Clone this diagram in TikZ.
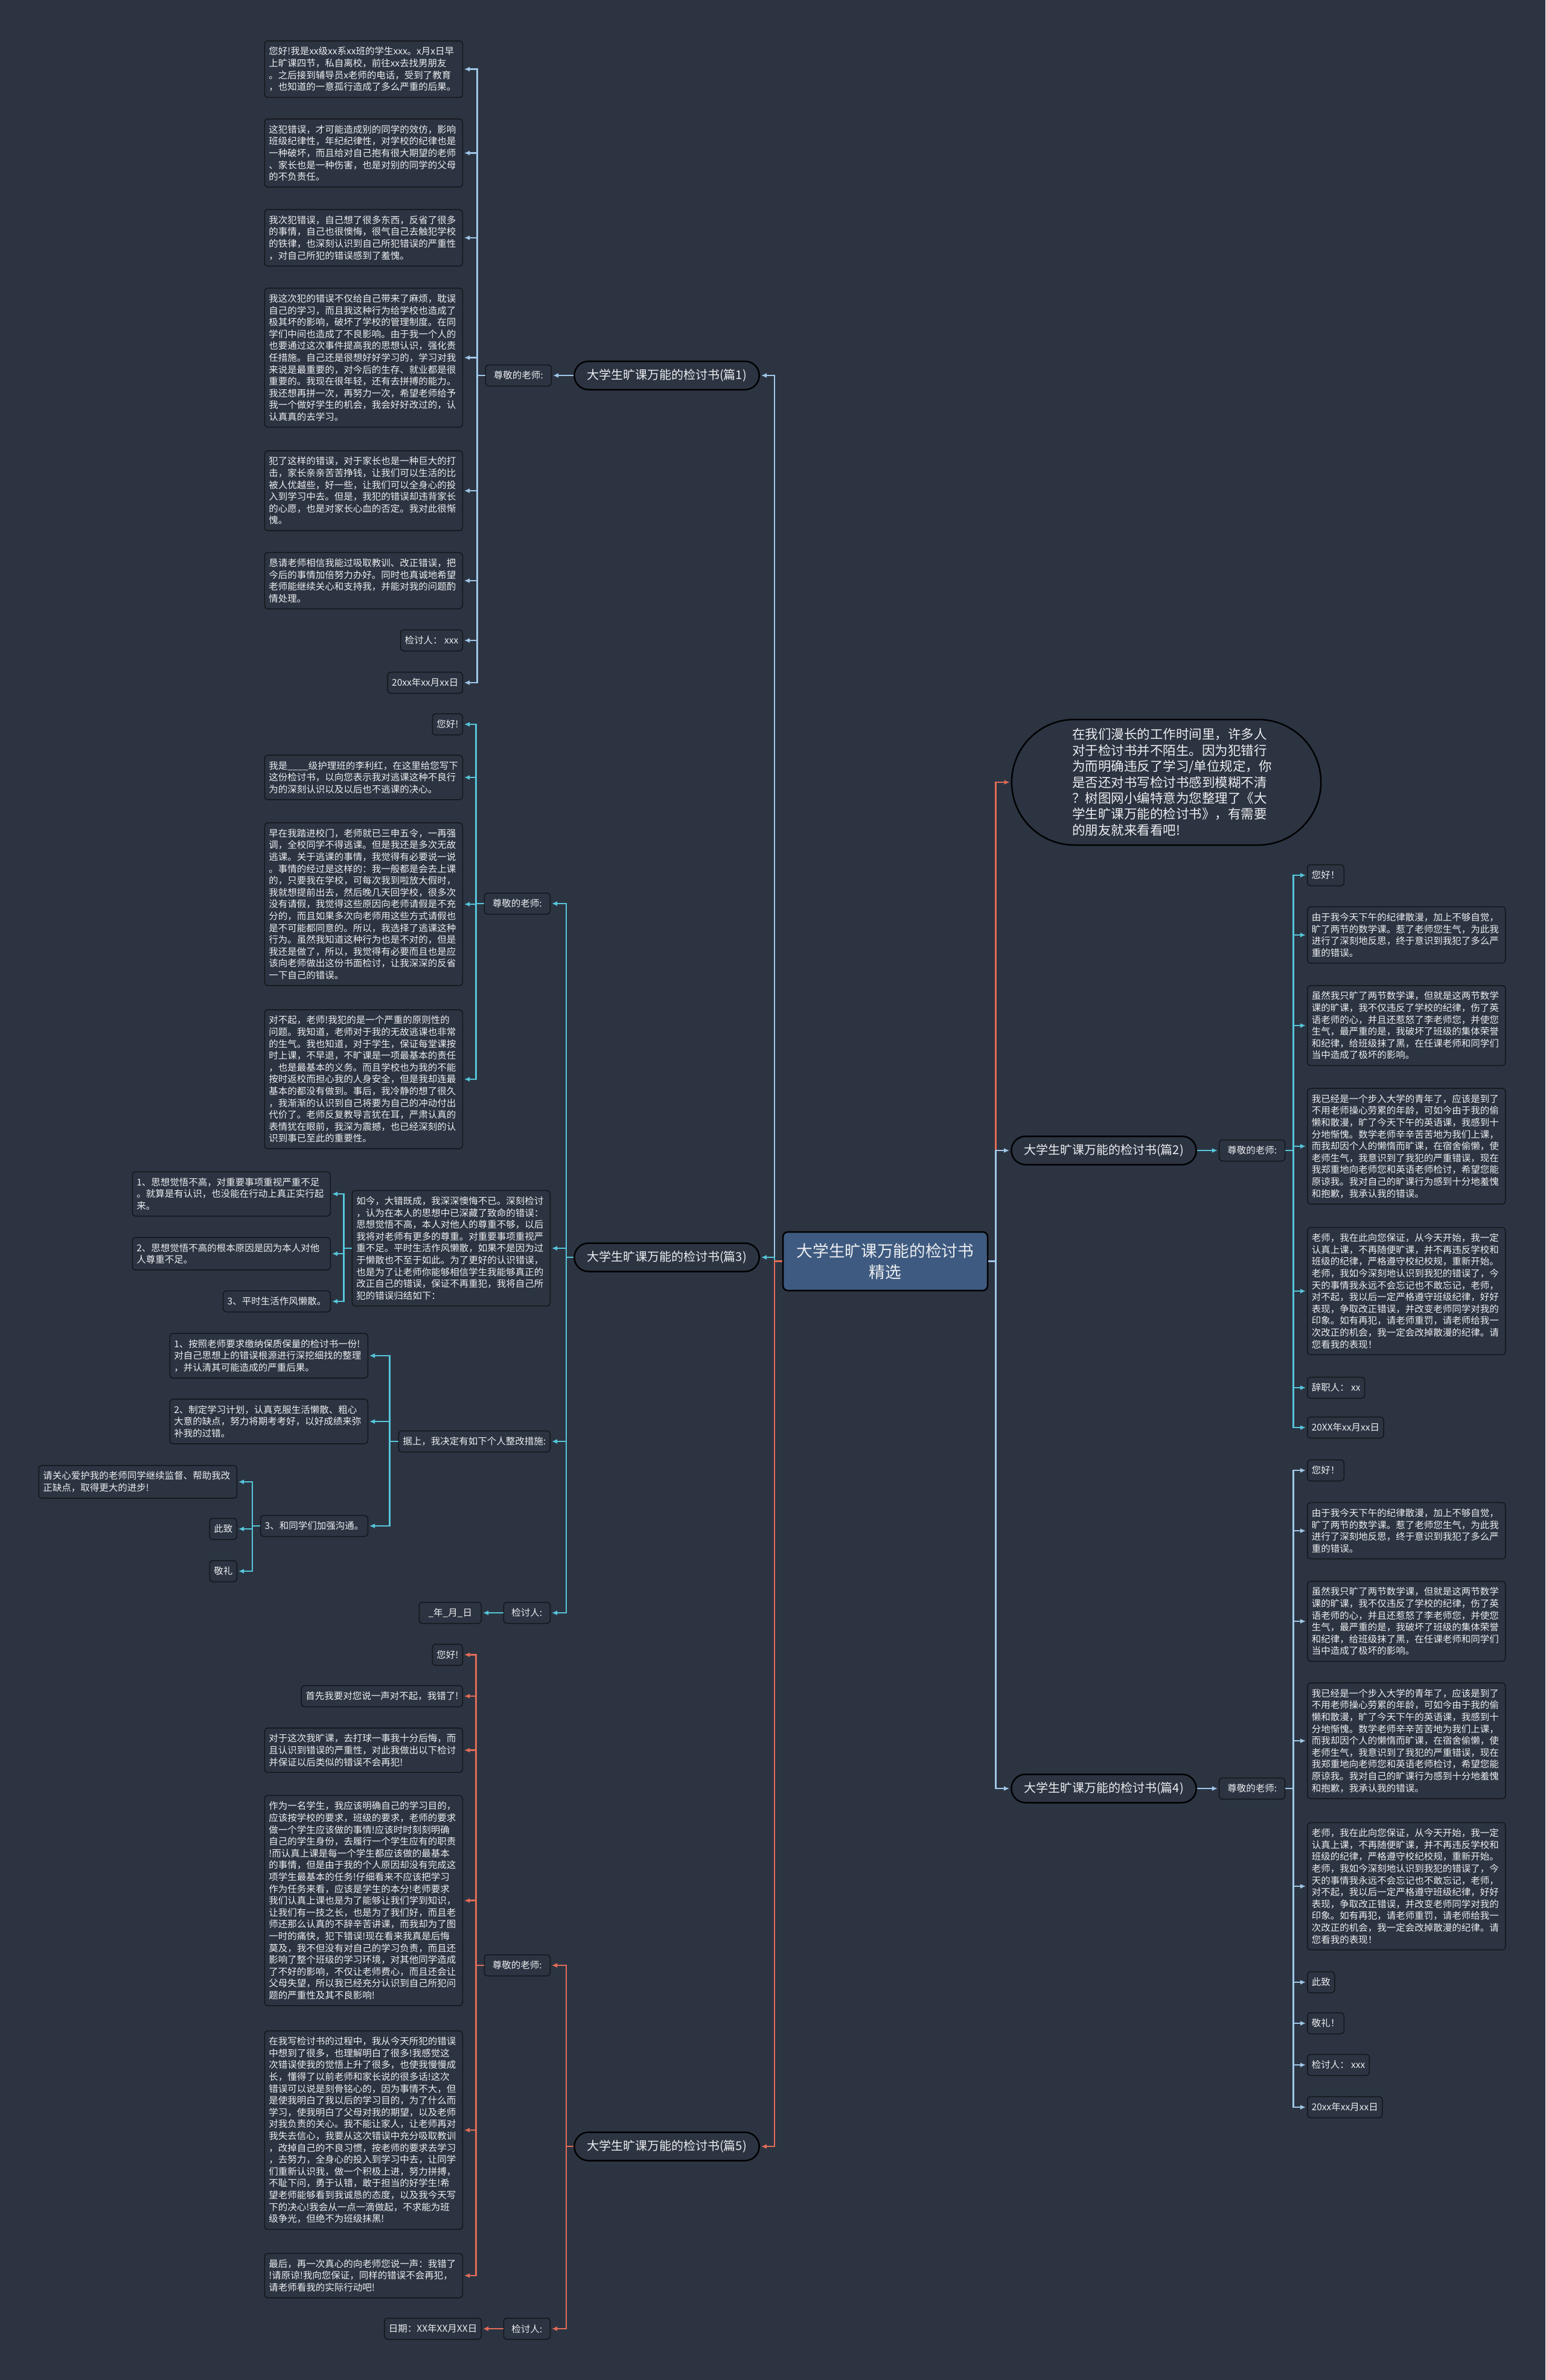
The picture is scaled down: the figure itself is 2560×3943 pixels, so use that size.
\documentclass[tikz,border=0pt]{standalone}
\usepackage{fontspec}
\setmainfont{Noto Sans CJK SC}
\usetikzlibrary{arrows.meta,positioning,shapes.misc}
\definecolor{canvasbg}{RGB}{44,52,66}
\definecolor{boxline}{RGB}{20,22,26}
\definecolor{rootfill}{RGB}{62,90,128}
\definecolor{paleblue}{RGB}{160,200,232}
\definecolor{tealline}{RGB}{86,198,218}
\definecolor{coralline}{RGB}{226,108,86}
\definecolor{inktext}{RGB}{236,238,240}

\newcommand{\bodyfont}{\fontsize{15.5pt}{19.6pt}\selectfont}
\newcommand{\txtyouyu}{由于我今天下午的纪律散漫，加上不够自觉，\\旷了两节的数学课。惹了老师您生气，为此我\\进行了深刻地反思，终于意识到我犯了多么严\\重的错误。}
\newcommand{\txtsuiran}{虽然我只旷了两节数学课，但就是这两节数学\\课的旷课，我不仅违反了学校的纪律，伤了英\\语老师的心，并且还惹怒了李老师您，并使您\\生气，最严重的是，我破坏了班级的集体荣誉\\和纪律，给班级抹了黑，在任课老师和同学们\\当中造成了极坏的影响。}
\newcommand{\txtyijing}{我已经是一个步入大学的青年了，应该是到了\\不用老师操心劳累的年龄，可如今由于我的偷\\懒和散漫，旷了今天下午的英语课，我感到十\\分地惭愧。数学老师辛辛苦苦地为我们上课，\\而我却因个人的懒惰而旷课，在宿舍偷懒，使\\老师生气，我意识到了我犯的严重错误，现在\\我郑重地向老师您和英语老师检讨，希望您能\\原谅我。我对自己的旷课行为感到十分地羞愧\\和抱歉，我承认我的错误。}
\newcommand{\txtbaozheng}{老师，我在此向您保证，从今天开始，我一定\\认真上课，不再随便旷课，并不再违反学校和\\班级的纪律，严格遵守校纪校规，重新开始。\\老师，我如今深刻地认识到我犯的错误了，今\\天的事情我永远不会忘记也不敢忘记，老师，\\对不起，我以后一定严格遵守班级纪律，好好\\表现，争取改正错误，并改变老师同学对我的\\印象。如有再犯，请老师重罚，请老师给我一\\次改正的机会，我一定会改掉散漫的纪律。请\\您看我的表现！}

\tikzset{
    textbox/.style={draw=boxline, line width=1.5pt, rounded corners=5pt, fill=canvasbg, text=inktext, font=\bodyfont, align=left, text width=314pt, inner xsep=7pt, inner ysep=10pt},
    tagbox/.style={draw=boxline, line width=1.5pt, rounded corners=5pt, fill=canvasbg, text=inktext, font=\bodyfont, minimum height=35pt, inner xsep=7pt, inner ysep=4pt},
    branchbox/.style={rounded rectangle, draw=black, line width=2.5pt, fill=canvasbg, text=inktext, font=\fontsize{20pt}{24pt}\selectfont, minimum width=313pt, minimum height=47pt},
    rootbox/.style={draw=black, line width=2.5pt, rounded corners=8pt, fill=rootfill, text=inktext, align=center, font=\fontsize{26.7pt}{35pt}\selectfont, minimum width=339pt, minimum height=97pt},
    introbox/.style={rounded rectangle, draw=black, line width=2.5pt, fill=canvasbg, text=inktext, align=left, text width=312pt, font=\fontsize{21.5pt}{26.4pt}\selectfont, minimum width=519pt, minimum height=208pt},
    palelink/.style={draw=paleblue, line width=2.5pt, -{Latex[length=9pt,width=8pt]}, shorten >=2pt},
    teallink/.style={draw=tealline, line width=2.5pt, -{Latex[length=9pt,width=8pt]}, shorten >=2pt},
    corallink/.style={draw=coralline, line width=2.5pt, -{Latex[length=9pt,width=8pt]}, shorten >=2pt}
}

\begin{document}
\begin{tikzpicture}[x=1pt, y=-1pt]
\fill[canvasbg] (0,0) rectangle (2560,3943);
\useasboundingbox (0,0) rectangle (2560,3943);

% centre and intro
\node[rootbox] (root) at (1466.5,2089.5) {大学生旷课万能的检讨书\\精选};
\node[introbox] (intro) at (1932,1296) {在我们漫长的工作时间里，许多人\\对于检讨书并不陌生。因为犯错行\\为而明确违反了学习/单位规定，你\\是否还对书写检讨书感到模糊不清\\？树图网小编特意为您整理了《大\\学生旷课万能的检讨书》，有需要\\的朋友就来看看吧!};

% branches
\node[branchbox] (p1) at (1104.5,622) {大学生旷课万能的检讨书(篇1)};
\node[branchbox] (p3) at (1104.5,2083) {大学生旷课万能的检讨书(篇3)};
\node[branchbox] (p5) at (1104.5,3556) {大学生旷课万能的检讨书(篇5)};
\node[branchbox] (p2) at (1828.5,1906) {大学生旷课万能的检讨书(篇2)};
\node[branchbox] (p4) at (1828.5,2963) {大学生旷课万能的检讨书(篇4)};

% pian 1
\node[tagbox, minimum width=109pt, left=36pt of p1] (t1) {尊敬的老师:};
\node[textbox, anchor=east] (a1) at (767,114.6) {您好!我是xx级xx系xx班的学生xxx。x月x日早\\上旷课四节，私自离校，前往xx去找男朋友\\。之后接到辅导员x老师的电话，受到了教育\\，也知道的一意孤行造成了多么严重的后果。};
\node[textbox, anchor=east] (a2) at (767,253.5) {这犯错误，才可能造成别的同学的效仿，影响\\班级纪律性，年纪纪律性，对学校的纪律也是\\一种破坏，而且给对自己抱有很大期望的老师\\、家长也是一种伤害，也是对别的同学的父母\\的不负责任。};
\node[textbox, anchor=east] (a3) at (767,394) {我次犯错误，自己想了很多东西，反省了很多\\的事情，自己也很懊悔，很气自己去触犯学校\\的铁律，也深刻认识到自己所犯错误的严重性\\，对自己所犯的错误感到了羞愧。};
\node[textbox, anchor=east] (a4) at (767,592.5) {我这次犯的错误不仅给自己带来了麻烦，耽误\\自己的学习，而且我这种行为给学校也造成了\\极其坏的影响，破坏了学校的管理制度。在同\\学们中间也造成了不良影响。由于我一个人的\\也要通过这次事件提高我的思想认识，强化责\\任措施。自己还是很想好好学习的，学习对我\\来说是最重要的，对今后的生存、就业都是很\\重要的。我现在很年轻，还有去拼搏的能力。\\我还想再拼一次，再努力一次，希望老师给予\\我一个做好学生的机会，我会好好改过的，认\\认真真的去学习。};
\node[textbox, anchor=east] (a5) at (767,813) {犯了这样的错误，对于家长也是一种巨大的打\\击，家长亲亲苦苦挣钱，让我们可以生活的比\\被人优越些，好一些，让我们可以全身心的投\\入到学习中去。但是，我犯的错误却违背家长\\的心愿，也是对家长心血的否定。我对此很惭\\愧。};
\node[textbox, anchor=east] (a6) at (767,962) {恳请老师相信我能过吸取教训、改正错误，把\\今后的事情加倍努力办好。同时也真诚地希望\\老师能继续关心和支持我，并能对我的问题酌\\情处理。};
\node[tagbox, anchor=east] (a7) at (767,1061) {检讨人： xxx};
\node[tagbox, anchor=east] (a8) at (767,1131) {20xx年xx月xx日};

% pian 3
\node[tagbox, minimum width=109pt, anchor=east] (t3) at (912,1497) {尊敬的老师:};
\node[tagbox, anchor=east] (b1) at (767,1200) {您好!};
\node[textbox, anchor=east] (b2) at (767,1288) {我是\_\_\_\_级护理班的李利红，在这里给您写下\\这份检讨书，以向您表示我对逃课这种不良行\\为的深刻认识以及以后也不逃课的决心。};
\node[textbox, anchor=east] (b3) at (767,1498) {早在我踏进校门，老师就已三申五令，一再强\\调，全校同学不得逃课。但是我还是多次无故\\逃课。关于逃课的事情，我觉得有必要说一说\\。事情的经过是这样的：我一般都是会去上课\\的，只要我在学校，可每次我到啦放大假时，\\我就想提前出去，然后晚几天回学校，很多次\\没有请假，我觉得这些原因向老师请假是不充\\分的，而且如果多次向老师用这些方式请假也\\是不可能都同意的。所以，我选择了逃课这种\\行为。虽然我知道这种行为也是不对的，但是\\我还是做了，所以，我觉得有必要而且也是应\\该向老师做出这份书面检讨，让我深深的反省\\一下自己的错误。};
\node[textbox, anchor=east] (b4) at (767,1788) {对不起，老师!我犯的是一个严重的原则性的\\问题。我知道，老师对于我的无故逃课也非常\\的生气。我也知道，对于学生，保证每堂课按\\时上课，不早退，不旷课是一项最基本的责任\\，也是最基本的义务。而且学校也为我的不能\\按时返校而担心我的人身安全，但是我却连最\\基本的都没有做到。事后，我冷静的想了很久\\，我渐渐的认识到自己将要为自己的冲动付出\\代价了。老师反复教导言犹在耳，严肃认真的\\表情犹在眼前，我深为震撼，也已经深刻的认\\识到事已至此的重要性。};
\node[textbox, anchor=east] (jin) at (912,2068) {如今，大错既成，我深深懊悔不已。深刻检讨\\，认为在本人的思想中已深藏了致命的错误：\\思想觉悟不高，本人对他人的尊重不够，以后\\我将对老师有更多的尊重。对重要事项重视严\\重不足。平时生活作风懒散，如果不是因为过\\于懒散也不至于如此。为了更好的认识错误，\\也是为了让老师你能够相信学生我能够真正的\\改正自己的错误，保证不再重犯，我将自己所\\犯的错误归结如下：};
\node[textbox, anchor=east] (e1) at (548,1978) {1、思想觉悟不高，对重要事项重视严重不足\\。就算是有认识，也没能在行动上真正实行起\\来。};
\node[textbox, anchor=east] (e2) at (548,2077) {2、思想觉悟不高的根本原因是因为本人对他\\人尊重不足。};
\node[tagbox, anchor=east] (e3) at (548,2156) {3、平时生活作风懒散。};
\node[tagbox, anchor=east] (ju) at (912,2388) {据上，我决定有如下个人整改措施:};
\node[textbox, anchor=east] (f1) at (610,2246) {1、按照老师要求缴纳保质保量的检讨书一份!\\对自己思想上的错误根源进行深挖细找的整理\\，并认清其可能造成的严重后果。};
\node[textbox, anchor=east] (f2) at (610,2355) {2、制定学习计划，认真克服生活懒散、粗心\\大意的缺点，努力将期考考好，以好成绩来弥\\补我的过错。};
\node[tagbox, anchor=east] (f3) at (610,2528) {3、和同学们加强沟通。};
\node[textbox, anchor=east] (g1) at (393,2455) {请关心爱护我的老师同学继续监督、帮助我改\\正缺点，取得更大的进步!};
\node[tagbox, anchor=east] (g2) at (393,2533) {此致};
\node[tagbox, anchor=east] (g3) at (393,2603) {敬礼};
\node[tagbox, minimum width=77pt, anchor=east] (s3) at (912,2672) {检讨人:};
\node[tagbox, minimum width=103pt, anchor=east] (d3) at (798,2672) {\_年\_月\_日};

% pian 5
\node[tagbox, minimum width=109pt, anchor=east] (t5) at (912,3256) {尊敬的老师:};
\node[tagbox, anchor=east] (h1) at (767,2741.5) {您好!};
\node[tagbox, anchor=east] (h2) at (767,2810) {首先我要对您说一声对不起，我错了!};
\node[textbox, anchor=east] (h3) at (767,2899.6) {对于这次我旷课，去打球一事我十分后悔，而\\且认识到错误的严重性，对此我做出以下检讨\\并保证以后类似的错误不会再犯!};
\node[textbox, anchor=east] (h4) at (767,3148.7) {作为一名学生，我应该明确自己的学习目的，\\应该按学校的要求，班级的要求，老师的要求\\做一个学生应该做的事情!应该时时刻刻明确\\自己的学生身份，去履行一个学生应有的职责\\!而认真上课是每一个学生都应该做的最基本\\的事情，但是由于我的个人原因却没有完成这\\项学生最基本的任务!仔细看来不应该把学习\\作为任务来看，应该是学生的本分!老师要求\\我们认真上课也是为了能够让我们学到知识，\\让我们有一技之长，也是为了我们好，而且老\\师还那么认真的不辞辛苦讲课，而我却为了图\\一时的痛快，犯下错误!现在看来我真是后悔\\莫及，我不但没有对自己的学习负责，而且还\\影响了整个班级的学习环境，对其他同学造成\\了不好的影响，不仅让老师费心，而且还会让\\父母失望，所以我已经充分认识到自己所犯问\\题的严重性及其不良影响!};
\node[textbox, anchor=east] (h5) at (767,3529) {在我写检讨书的过程中，我从今天所犯的错误\\中想到了很多，也理解明白了很多!我感觉这\\次错误使我的觉悟上升了很多，也使我慢慢成\\长，懂得了以前老师和家长说的很多话!这次\\错误可以说是刻骨铭心的，因为事情不大，但\\是使我明白了我以后的学习目的，为了什么而\\学习，使我明白了父母对我的期望，以及老师\\对我负责的关心。我不能让家人，让老师再对\\我失去信心，我要从这次错误中充分吸取教训\\，改掉自己的不良习惯，按老师的要求去学习\\，去努力，全身心的投入到学习中去，让同学\\们重新认识我，做一个积极上进，努力拼搏，\\不耻下问，勇于认错，敢于担当的好学生!希\\望老师能够看到我诚恳的态度，以及我今天写\\下的决心!我会从一点一滴做起，不求能为班\\级争光，但绝不为班级抹黑!};
\node[textbox, anchor=east] (h6) at (767,3770) {最后，再一次真心的向老师您说一声：我错了\\!请原谅!我向您保证，同样的错误不会再犯，\\请老师看我的实际行动吧!};
\node[tagbox, minimum width=77pt, anchor=east] (s5) at (912,3858) {检讨人:};
\node[tagbox, anchor=east] (d5) at (798,3858) {日期：XX年XX月XX日};

% pian 2
\node[tagbox, minimum width=109pt, right=36pt of p2] (t2) {尊敬的老师:};
\node[tagbox, anchor=west] (k1) at (2165,1450) {您好！};
\node[textbox, anchor=west] (k2) at (2165,1549) {\txtyouyu};
\node[textbox, anchor=west] (k3) at (2165,1699) {\txtsuiran};
\node[textbox, anchor=west] (k4) at (2165,1899) {\txtyijing};
\node[textbox, anchor=west] (k5) at (2165,2139) {\txtbaozheng};
\node[tagbox, anchor=west] (k6) at (2165,2299) {辞职人： xx};
\node[tagbox, anchor=west] (k7) at (2165,2365) {20XX年xx月xx日};

% pian 4
\node[tagbox, minimum width=109pt, right=36pt of p4] (t4) {尊敬的老师:};
\node[tagbox, anchor=west] (m1) at (2165,2436) {您好！};
\node[textbox, anchor=west] (m2) at (2165,2536) {\txtyouyu};
\node[textbox, anchor=west] (m3) at (2165,2686) {\txtsuiran};
\node[textbox, anchor=west] (m4) at (2165,2884) {\txtyijing};
\node[textbox, anchor=west] (m5) at (2165,3125) {\txtbaozheng};
\node[tagbox, anchor=west] (m6) at (2165,3284) {此致};
\node[tagbox, anchor=west] (m7) at (2165,3352) {敬礼！};
\node[tagbox, anchor=west] (m8) at (2165,3421) {检讨人： xxx};
\node[tagbox, anchor=west] (m9) at (2165,3491) {20xx年xx月xx日};

% connectors from the centre
\draw[corallink] (root.east) -- ++(12,0) |- (intro.west);
\draw[palelink] (root.east) -- ++(12,0) |- (p2.west);
\draw[palelink] (root.east) -- ++(12,0) |- (p4.west);
\draw[palelink] (root.west) -- ++(-13,0) |- (p1.east);
\draw[teallink] (root.west) -- ++(-13,0) |- (p3.east);
\draw[corallink] (root.west) -- ++(-13,0) |- (p5.east);

% pian 1 links
\draw[palelink] (p1.west) -- (t1.east);
\foreach \n in {a1,a2,a3,a4,a5,a6,a7,a8}
    \draw[palelink] (t1.west) -- ++(-13,0) |- (\n.east);

% pian 3 links
\foreach \n in {t3,jin,ju,s3}
    \draw[teallink] (p3.west) -- ++(-12,0) |- (\n.east);
\foreach \n in {b1,b2,b3,b4}
    \draw[teallink] (t3.west) -- ++(-13,0) |- (\n.east);
\foreach \n in {e1,e2,e3}
    \draw[teallink] (jin.west) -- ++(-13,0) |- (\n.east);
\foreach \n in {f1,f2,f3}
    \draw[teallink] (ju.west) -- ++(-14,0) |- (\n.east);
\foreach \n in {g1,g2,g3}
    \draw[teallink] (f3.west) -- ++(-13,0) |- (\n.east);
\draw[teallink] (s3.west) -- (d3.east);

% pian 5 links
\foreach \n in {t5,s5}
    \draw[corallink] (p5.west) -- ++(-12,0) |- (\n.east);
\foreach \n in {h1,h2,h3,h4,h5,h6}
    \draw[corallink] (t5.west) -- ++(-13,0) |- (\n.east);
\draw[corallink] (s5.west) -- (d5.east);

% pian 2 and 4 links
\draw[teallink] (p2.east) -- (t2.west);
\foreach \n in {k1,k2,k3,k4,k5,k6,k7}
    \draw[teallink] (t2.east) -- ++(13,0) |- (\n.west);
\draw[palelink] (p4.east) -- (t4.west);
\foreach \n in {m1,m2,m3,m4,m5,m6,m7,m8,m9}
    \draw[palelink] (t4.east) -- ++(13,0) |- (\n.west);
\end{tikzpicture}
\end{document}
